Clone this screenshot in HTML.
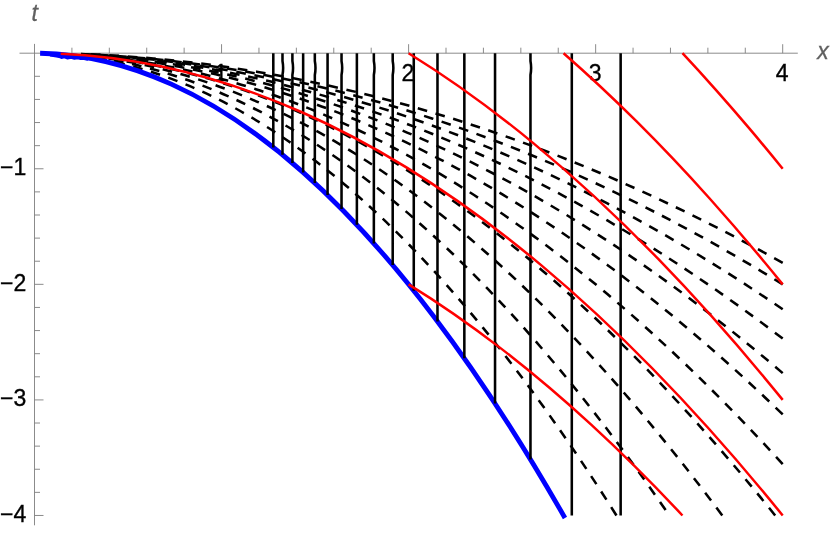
<!DOCTYPE html>
<html><head><meta charset="utf-8"><title>plot</title>
<style>html,body{margin:0;padding:0;background:#fff}body{width:830px;height:533px;position:relative;overflow:hidden;font-family:"Liberation Sans",sans-serif}</style>
</head><body>
<svg width="830" height="533" viewBox="0 0 830 533" style="position:absolute;left:0;top:0;will-change:transform">
<g stroke="#7e7e7e" stroke-width="0.9" fill="none">
<path d="M19.5 53.2 H797.8"/>
<path d="M34.5 43.9 V525.3"/>
<path d="M71.91 53.2v-5.5M109.32 53.2v-5.5M146.73 53.2v-5.5M184.14 53.2v-5.5M221.55 53.2v-9M258.96 53.2v-5.5M296.37 53.2v-5.5M333.78 53.2v-5.5M371.19 53.2v-5.5M408.6 53.2v-9M446.01 53.2v-5.5M483.42 53.2v-5.5M520.83 53.2v-5.5M558.24 53.2v-5.5M595.65 53.2v-9M633.06 53.2v-5.5M670.47 53.2v-5.5M707.88 53.2v-5.5M745.29 53.2v-5.5M782.7 53.2v-9M34.5 76.31h5.5M34.5 99.43h5.5M34.5 122.54h5.5M34.5 145.66h5.5M34.5 168.77h9M34.5 191.88h5.5M34.5 215h5.5M34.5 238.11h5.5M34.5 261.23h5.5M34.5 284.34h9M34.5 307.45h5.5M34.5 330.57h5.5M34.5 353.68h5.5M34.5 376.8h5.5M34.5 399.91h9M34.5 423.02h5.5M34.5 446.14h5.5M34.5 469.25h5.5M34.5 492.37h5.5M34.5 515.48h9"/>
</g>
<g font-family="Liberation Sans, sans-serif" font-size="23" fill="#000" stroke="#000" stroke-width="0.35">
<text x="220.95" y="81.3" text-anchor="middle">1</text>
<text x="408" y="81.3" text-anchor="middle">2</text>
<text x="595.05" y="81.3" text-anchor="middle">3</text>
<text x="782.1" y="81.3" text-anchor="middle">4</text>
<text x="26.3" y="175.07" text-anchor="end">−1</text>
<text x="26.3" y="290.64" text-anchor="end">−2</text>
<text x="26.3" y="406.21" text-anchor="end">−3</text>
<text x="26.3" y="521.78" text-anchor="end">−4</text>
<text x="34.7" y="21" text-anchor="middle" font-style="italic" fill="#606060" stroke="#606060" stroke-width="0.3">t</text>
<text x="823" y="59" text-anchor="middle" font-style="italic" fill="#606060" stroke="#606060" stroke-width="0.3">x</text>
</g>
<g stroke="#000" stroke-width="2.55" fill="none" stroke-dasharray="9.7 8.75">
<path d="M616.46 515.48Q549.56 409.2 482.66 327.35Q415.76 245.5 348.86 188.09Q281.96 130.68 215.06 97.7Q148.16 64.72 81.26 56.18"/>
<path d="M665.63 510.05Q592.58 404.3 519.54 323.03Q446.49 241.76 373.45 184.96Q300.4 128.17 227.35 95.86Q154.31 63.54 81.26 55.71"/>
<path d="M722.27 515.48Q642.15 407.77 562.02 325.15Q481.89 242.54 401.77 185.02Q321.64 127.5 241.52 95.08Q161.39 62.66 81.26 55.34"/>
<path d="M775.18 515.48Q688.44 407.21 601.7 324.29Q514.96 241.38 428.22 183.82Q341.48 126.27 254.74 94.07Q168 61.88 81.26 55.04"/>
<path d="M782.7 464.12Q695.02 367.81 607.34 294.07Q519.66 220.34 431.98 169.17Q344.3 118.01 256.62 89.42Q168.94 60.82 81.26 54.81"/>
<path d="M782.7 414.36Q695.02 329.71 607.34 264.9Q519.66 200.1 431.98 155.13Q344.3 110.16 256.62 85.03Q168.94 59.9 81.26 54.61"/>
<path d="M782.7 373.12Q695.02 298.14 607.34 240.73Q519.66 183.32 431.98 143.49Q344.3 103.66 256.62 81.4Q168.94 59.14 81.26 54.45"/>
<path d="M782.7 338.56Q695.02 271.68 607.34 220.47Q519.66 169.27 431.98 133.74Q344.3 98.21 256.62 78.35Q168.94 58.49 81.26 54.31"/>
<path d="M782.7 309.31Q695.02 249.28 607.34 203.33Q519.66 157.37 431.98 125.48Q344.3 93.59 256.62 75.77Q168.94 57.95 81.26 54.2"/>
<path d="M782.7 284.34Q695.02 230.17 607.34 188.69Q519.66 147.21 431.98 118.43Q344.3 89.65 256.62 73.57Q168.94 57.49 81.26 54.1"/>
<path d="M782.7 262.85Q695.02 213.71 607.34 176.09Q519.66 138.47 431.98 112.37Q344.3 86.27 256.62 71.68Q168.94 57.09 81.26 54.02"/>
</g>
<path d="M50 55.4L56.5 56.3L59 56.8L61.3 57.8L64.5 57.2L67.6 58.4L71 57.7L74.4 58.7L77.5 58.2L80.8 58.9L84 58.8L88 59.6" stroke="#0000ff" stroke-width="2.2" fill="none" stroke-linejoin="round"/>
<path d="M40.11 53.25Q105.72 54.47 171.33 84.12Q236.93 113.77 302.54 171.86Q368.15 229.95 433.76 316.47Q499.37 403 564.97 517.96" stroke="#0000ff" stroke-width="4.8" fill="none"/>
<g stroke="#000" stroke-width="2.55" fill="none">
<path d="M620.65 53.2V515.48M571.8 53.2V515.48M530.47 53.2V61Q531.77 68 530.47 75V459.47M495.04 53.2V403.5M464.34 53.2V358.35M437.48 53.2V321.4M413.77 53.2V290.77M392.7 53.2V61Q394 68 392.7 75V265.11M373.85 53.2V61Q375.15 68 373.85 75V243.39M356.88 53.2V224.85M341.53 53.2V61Q342.83 68 341.53 75V208.89M327.57 53.2V195.06M314.83 53.2V61Q316.13 68 314.83 75V182.99M303.15 53.2V172.4M292.4 53.2V61Q293.7 68 292.4 75V163.05M282.49 53.2V61Q283.79 68 282.49 75V154.77M273.3 53.2V147.38"/>
</g>
<g stroke="#ff0000" stroke-width="2.5" fill="none">
<path d="M408.6 284.34Q454.24 312.54 499.89 347.62Q545.53 382.71 591.17 424.67Q636.82 466.63 682.46 515.48"/>
<path d="M60.69 53.77Q181.02 58.97 301.36 112.01Q421.69 165.04 542.03 265.91Q662.36 366.78 782.7 515.48"/>
<path d="M408.6 53.2Q470.95 91.72 533.3 143.09Q595.65 194.45 658 258.66Q720.35 322.86 782.7 399.91"/>
<path d="M563.56 53.2Q600.08 85.11 636.6 121.43Q673.13 157.75 709.65 198.48Q746.18 239.21 782.7 284.34"/>
<path d="M682.46 53.2Q699.17 71.08 715.87 89.88Q732.58 108.68 749.29 128.4Q765.99 148.13 782.7 168.77"/>
</g>
</svg>
</body></html>
